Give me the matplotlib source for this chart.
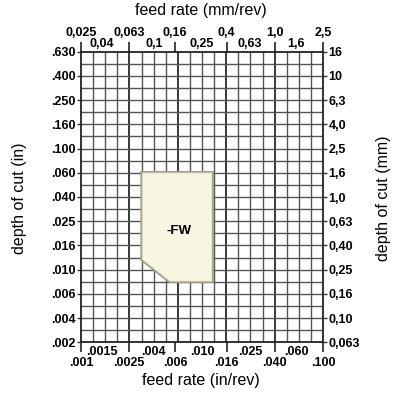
import numpy as np
import matplotlib
matplotlib.use('Agg')
from matplotlib import pyplot as plt
from matplotlib.patches import Polygon

# feed rate labels (in/rev, bottom) and (mm/rev, top)
feed_in = [0.001, 0.0015, 0.0025, 0.004, 0.006, 0.010, 0.016, 0.025, 0.040, 0.060, 0.100]
feed_in_labels = ['.001', '.0015', '.0025', '.004', '.006', '.010', '.016', '.025', '.040', '.060', '.100']
feed_mm_labels = ['0,025', '0,04', '0,063', '0,1', '0,16', '0,25', '0,4', '0,63', '1,0', '1,6', '2,5']

# depth of cut labels (in, left) and (mm, right)
doc_in_labels = ['.630', '.400', '.250', '.160', '.100', '.060', '.040', '.025', '.016', '.010', '.006', '.004', '.002']
doc_mm_labels = ['16', '10', '6,3', '4,0', '2,5', '1,6', '1,0', '0,63', '0,40', '0,25', '0,16', '0,10', '0,063']

# -FW chipbreaker area (feed in/rev, depth in)
fw_feed = [0.0032, 0.0121, 0.0121, 0.0054, 0.0032]
fw_doc = [0.063, 0.063, 0.0080, 0.0080, 0.0121]

font = ['Liberation Sans', 'DejaVu Sans']
tfs = 9

fig = plt.figure(figsize=(4.02, 3.94), dpi=100)
ax = fig.add_axes([81/402, 1-342.3/394, 242/402, 290.6/394])
ax.set_xscale('log')
ax.set_yscale('log')
xmin, xmax = 0.001, 0.1
ymin, ymax = 0.63*10**-2.4, 0.63
ax.set_xlim(xmin, xmax)
ax.set_ylim(ymin, ymax)

# grid every 0.1 decade
xg = xmin*10**(np.arange(1, 20)/10)
yg = ymin*10**(np.arange(1, 24)/10)
for i, x in enumerate(xg):
    major = (i+1) % 4 == 0
    ax.axvline(x, color='#2a2a2a' if major else '#555555', lw=1.3 if major else 1.0, zorder=1)
for y in yg:
    ax.axhline(y, color='#555555', lw=1.0, zorder=1)

# chipbreaker polygon with a soft shadow
pts = np.column_stack([fw_feed, fw_doc])
ax.add_patch(Polygon(pts, closed=True, facecolor='#a5a58f',
                     edgecolor='#9a9a86', lw=2.5, zorder=2))
ax.add_patch(Polygon(pts, closed=True, facecolor='#f8f5e0', edgecolor='#c8c6b0',
                     lw=0.6, zorder=3))
ax.text(0.0064, 0.021, '-FW', ha='center', va='center', fontsize=9.5,
        fontweight='bold', family=font, zorder=4)

for s in ax.spines.values():
    s.set_linewidth(1.3)
    s.set_color('#222222')

# y ticks
ypos = ymax*10**(-0.2*np.arange(13))
ax.set_yticks(ypos)
ax.set_yticklabels(doc_in_labels, fontsize=tfs, fontweight='bold', family=font)
ax.yaxis.set_minor_locator(matplotlib.ticker.NullLocator())
ax.tick_params(axis='y', length=3, width=1, pad=1, color='#333333')
ax2 = ax.twinx()
ax2.set_yscale('log')
ax2.set_ylim(ymin, ymax)
ax2.set_yticks(ypos)
ax2.set_yticklabels(doc_mm_labels, fontsize=tfs, fontweight='bold', family=font)
ax2.yaxis.set_minor_locator(matplotlib.ticker.NullLocator())
ax2.tick_params(axis='y', length=3, width=1, pad=1, color='#333333')
for s in ax2.spines.values():
    s.set_visible(False)

# x ticks: long ones at every second label
ax.set_xticks(feed_in[::2])
ax.set_xticklabels([])
ax.xaxis.set_minor_locator(matplotlib.ticker.NullLocator())
ax.tick_params(axis='x', which='major', top=True, bottom=True, length=7, width=1.3, color='#333333')

for i, x in enumerate(feed_in):
    low = i % 2 == 0
    ax.annotate(feed_in_labels[i], (x, 0), xycoords=('data', 'axes fraction'),
                xytext=(0, -14.8 if low else -7), textcoords='offset points',
                ha='center', va='center', fontsize=tfs, fontweight='bold', family=font)
    ax.annotate(feed_mm_labels[i], (x, 1), xycoords=('data', 'axes fraction'),
                xytext=(0, 13.5 if low else 5.8), textcoords='offset points',
                ha='center', va='center', fontsize=tfs, fontweight='bold', family=font)

fig.text(201/402, 1-10/394, 'feed rate (mm/rev)', ha='center', va='center', fontsize=11.5, family=font)
fig.text(201/402, 1-381/394, 'feed rate (in/rev)', ha='center', va='center', fontsize=11.5, family=font)
fig.text(20/402, 1-198/394, 'depth of cut (in)', ha='center', va='center', fontsize=11.5, rotation=90, family=font)
fig.text(384/402, 1-198/394, 'depth of cut (mm)', ha='center', va='center', fontsize=11.5, rotation=90, family=font)

fig.savefig('out.png', dpi=100)
